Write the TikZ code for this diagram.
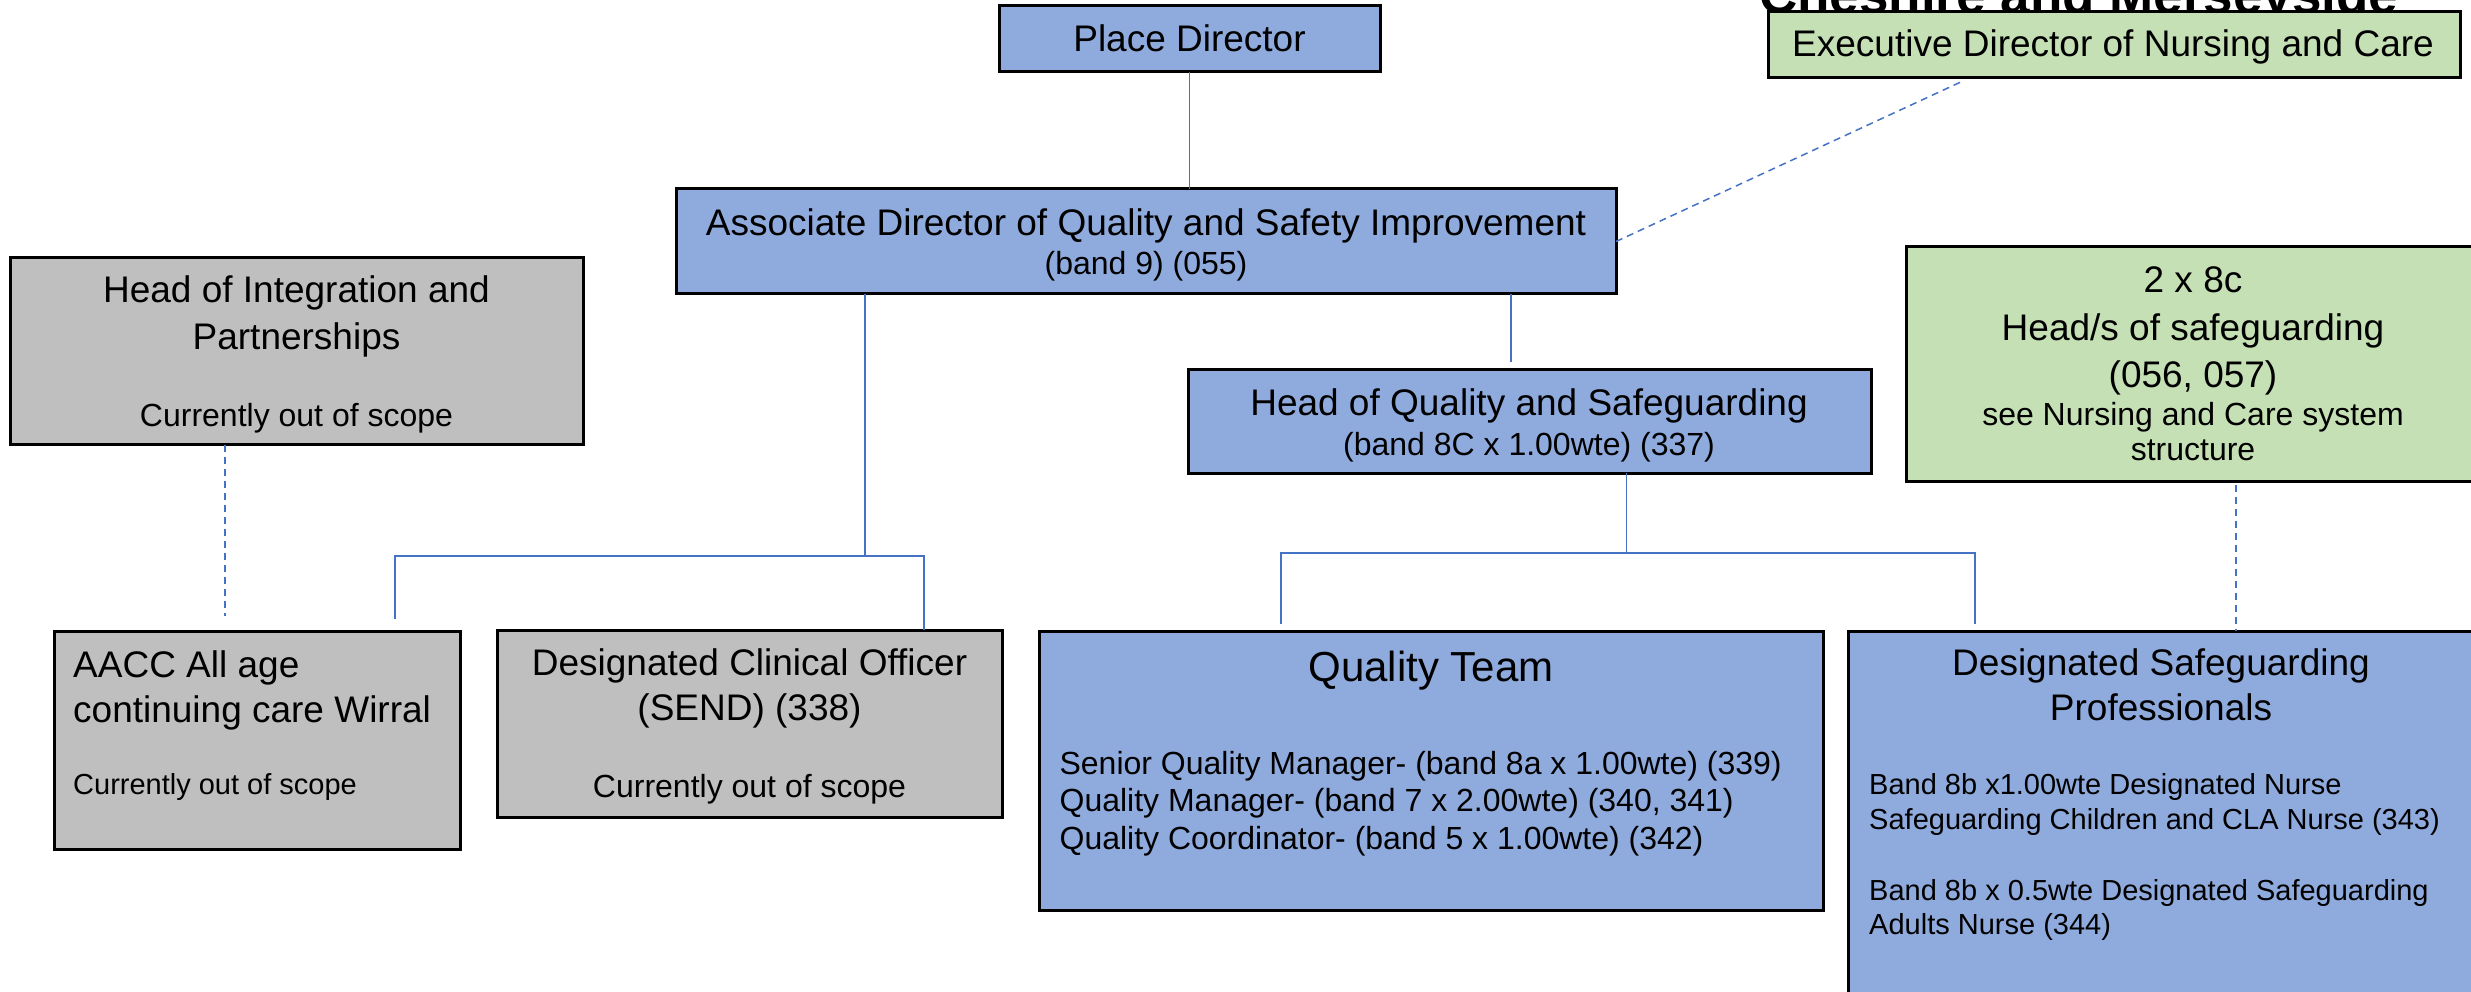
\documentclass[tikz,border=0pt]{standalone}
\usepackage{fontspec}
\setmainfont{Liberation Sans}
\definecolor{bfill}{HTML}{8FAADC}
\definecolor{gfill}{HTML}{C5E0B4}
\definecolor{grfill}{HTML}{BFBFBF}
\definecolor{lblue}{HTML}{4472C4}
\begin{document}
\begin{tikzpicture}[x=1pt,y=-1pt,
  box/.style={draw=black, line width=3pt, inner sep=0pt, outer sep=0pt},
  bluebox/.style={box, fill=bfill},
  greenbox/.style={box, fill=gfill},
  graybox/.style={box, fill=grfill},
  txt/.style={inner sep=0pt, anchor=base},
  ltxt/.style={inner sep=0pt, anchor=base west},
  big/.style={font=\fontsize{37}{44}\selectfont},
  mid/.style={font=\fontsize{32}{38}\selectfont},
  sml/.style={font=\fontsize{29}{35}\selectfont},
  conn/.style={draw=lblue, line width=1.5pt},
  dconn/.style={draw=lblue, line width=1.5pt, dash pattern=on 7pt off 5pt}]
\useasboundingbox (0,0) rectangle (2471,992);
\clip (0,0) rectangle (2471,992);
\fill[white] (0,0) rectangle (2471,992);

% partially hidden heading
\node[ltxt, font=\fontsize{53}{60}\selectfont\bfseries] (cm) at (1759,14) {Cheshire and Merseyside};

% boxes
\node[bluebox, minimum width=381pt, minimum height=66pt] (pd) at (1189.5,39) {};
\node[bluebox, minimum width=940pt, minimum height=105pt] (ad) at (1146,241.5) {};
\node[greenbox, minimum width=692pt, minimum height=66pt] (ex) at (2114,45) {};
\node[graybox, minimum width=573pt, minimum height=187pt] (hi) at (296.5,351) {};
\node[graybox, minimum width=406pt, minimum height=218pt] (aacc) at (257,740) {};
\node[graybox, minimum width=505pt, minimum height=187pt] (dco) at (749.5,723.5) {};
\node[bluebox, minimum width=683pt, minimum height=104pt] (hq) at (1529.5,421) {};
\node[greenbox, minimum width=574pt, minimum height=234pt] (gs) at (2193,364) {};
\node[bluebox, minimum width=784pt, minimum height=279pt] (qt) at (1431,770.5) {};
\node[bluebox, minimum width=626pt, minimum height=379pt] (dsp) at (2161,820.5) {};

% solid connectors
\draw[conn] (pd.south) -- (pd.south |- ad.north);
\coordinate (j1) at (865,556);
\coordinate (ca) at (395,619);
\coordinate (cd) at (924,630);
\draw[conn] (ad.south -| j1) -- (j1);
\draw[conn] (ca) -- (ca |- j1) -- (cd |- j1) -- (cd);
\coordinate (ch) at (1511,362);
\draw[conn] (ad.south -| ch) -- (ch);
\coordinate (j2) at (1626.5,553);
\coordinate (cq) at (1281,624);
\coordinate (cs) at (1975,624);
\draw[conn] (hq.south -| j2) -- (j2);
\draw[conn] (cq) -- (cq |- j2) -- (cs |- j2) -- (cs);

% dashed connectors
\coordinate (hiD) at (225,616);
\draw[dconn] (hi.south -| hiD) -- (hiD);
\coordinate (exD) at (1963,81);
\draw[dconn] (ad.east) -- (exD);
\coordinate (gsD) at (2236,485);
\draw[dconn] (gsD) -- (gsD |- dsp.north);

% texts
\node[txt,big] (pdt) at (1189.5,52) {Place Director};
\node[txt,big] (adt1) at (1146,236) {Associate Director of Quality and Safety Improvement};
\node[txt,mid] (adt2) at (1146,275) {(band 9) (055)};
\node[txt,big] (ext) at (2113,57) {Executive Director of Nursing and Care};

\node[txt,big] (hit1) at (296.5,303) {Head of Integration and};
\node[txt,big] (hit2) at (296.5,349) {Partnerships};
\node[txt,mid] (hit3) at (296.5,426) {Currently out of scope};

\node[ltxt,big] (aat1) at (73,677) {AACC All age};
\node[ltxt,big] (aat2) at (73,722) {continuing care Wirral};
\node[ltxt,sml] (aat3) at (73,794) {Currently out of scope};

\node[txt,big] (dct1) at (749.5,675) {Designated Clinical Officer};
\node[txt,big] (dct2) at (749.5,720) {(SEND) (338)};
\node[txt,mid] (dct3) at (749.5,797.5) {Currently out of scope};

\node[txt,big] (hqt1) at (1529,415.5) {Head of Quality and Safeguarding};
\node[txt,mid] (hqt2) at (1529,455.6) {(band 8C x 1.00wte) (337)};

\node[txt,big] (gst1) at (2193,293) {2 x 8c};
\node[txt,big] (gst2) at (2193,340) {Head/s of safeguarding};
\node[txt,big] (gst3) at (2193,387) {(056, 057)};
\node[txt,mid] (gst4) at (2193,425) {see Nursing and Care system};
\node[txt,mid] (gst5) at (2193,460) {structure};

\node[txt,font=\fontsize{42}{50}\selectfont] (qtt) at (1431,681.6) {Quality Team};
\node[ltxt,mid] (qtt1) at (1059.4,774) {Senior Quality Manager- (band 8a x 1.00wte) (339)};
\node[ltxt,mid] (qtt2) at (1059.4,811.5) {Quality Manager- (band 7 x 2.00wte) (340, 341)};
\node[ltxt,mid] (qtt3) at (1059.4,849.5) {Quality Coordinator- (band 5 x 1.00wte) (342)};

\node[txt,big] (dst1) at (2161,675.5) {Designated Safeguarding};
\node[txt,big] (dst2) at (2161,720.5) {Professionals};
\node[ltxt,sml] (dst3) at (1869,794) {Band 8b x1.00wte Designated Nurse};
\node[ltxt,sml] (dst4) at (1869,829) {Safeguarding Children and CLA Nurse (343)};
\node[ltxt,sml] (dst5) at (1869,900.7) {Band 8b x 0.5wte Designated Safeguarding};
\node[ltxt,sml] (dst6) at (1869,934.7) {Adults Nurse (344)};
\end{tikzpicture}
\end{document}
